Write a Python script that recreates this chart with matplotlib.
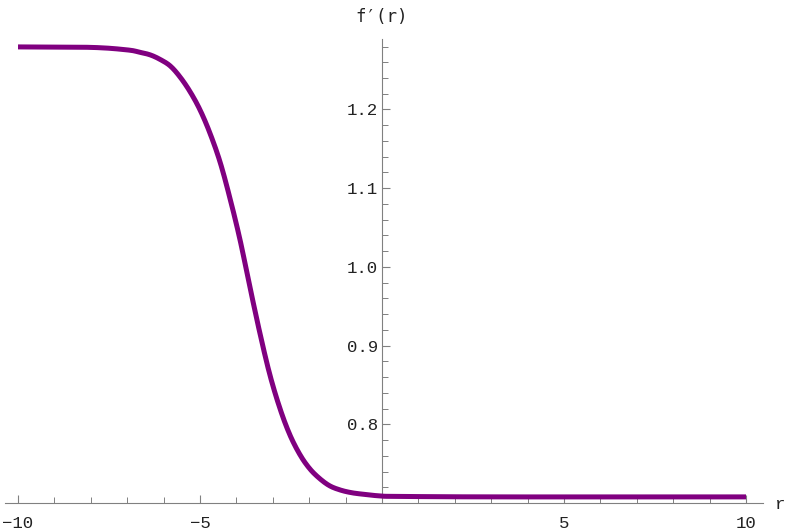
import matplotlib
matplotlib.use("Agg")
import matplotlib.pyplot as plt
import numpy as np

# Curve samples
r_vals = [-10.0, -8.0, -7.0, -6.65, -6.37, -6.10, -5.82, -5.55, -5.27, -5.00, -4.73, -4.45,
          -4.18, -3.90, -3.63, -3.35, -3.08, -2.80, -2.53, -2.25, -1.98, -1.70, -1.43, -1.15,
          -0.88, -0.60, -0.05, 0.49, 3.24, 10.0]
fp_vals = [1.2795, 1.2789, 1.2757, 1.2726, 1.2694, 1.2637, 1.2554, 1.2414, 1.2224, 1.1995,
           1.1703, 1.1334, 1.0877, 1.0343, 0.9746, 0.9149, 0.8628, 0.8196, 0.7865, 0.7611,
           0.7433, 0.7306, 0.7217, 0.7166, 0.7135, 0.7116, 0.7090, 0.7084, 0.7078, 0.7078]

x_major = [-10, -5, 5, 10]
x_major_labels = ['\u221210', '\u22125', '5', '10']
x_minor = [-9, -8, -7, -6, -4, -3, -2, -1, 1, 2, 3, 4, 6, 7, 8, 9]
y_major = [0.8, 0.9, 1.0, 1.1, 1.2]
y_major_labels = ['0.8', '0.9', '1.0', '1.1', '1.2']
y_minor = [0.72, 0.74, 0.76, 0.78, 0.82, 0.84, 0.86, 0.88, 0.92, 0.94, 0.96, 0.98,
           1.02, 1.04, 1.06, 1.08, 1.12, 1.14, 1.16, 1.18, 1.22, 1.24, 1.26, 1.28]

fig = plt.figure(figsize=(7.9, 5.32), dpi=100)
ax = fig.add_axes([0, 0, 1, 1])

# Catmull-Rom smoothing through the read points
xs = np.array(r_vals); ys = np.array(fp_vals)
pts_x, pts_y = [], []
n = len(xs)
for i in range(n - 1):
    i0, i3 = max(i - 1, 0), min(i + 2, n - 1)
    p0 = np.array([xs[i0], ys[i0]]); p1 = np.array([xs[i], ys[i]])
    p2 = np.array([xs[i + 1], ys[i + 1]]); p3 = np.array([xs[i3], ys[i3]])
    for t in np.linspace(0, 1, 16, endpoint=False):
        p = 0.5 * ((2 * p1) + (-p0 + p2) * t + (2 * p0 - 5 * p1 + 4 * p2 - p3) * t * t
                   + (-p0 + 3 * p1 - 3 * p2 + p3) * t ** 3)
        pts_x.append(p[0]); pts_y.append(p[1])
pts_x.append(xs[-1]); pts_y.append(ys[-1])

ax.plot(pts_x, pts_y, color=(0.5, 0.0, 0.5), lw=3.6, solid_capstyle='butt', zorder=5)

ax.set_xlim(-10.495, 11.209)
ax.set_ylim(0.6632, 1.3391)

axis_color = '#808080'
for s in ['top', 'right']:
    ax.spines[s].set_visible(False)
ax.spines['left'].set_position(('data', 0))
ax.spines['bottom'].set_position(('data', 0.7))
ax.spines['left'].set_bounds(0.7, 1.29)
ax.spines['bottom'].set_bounds(-10.36, 10.47)
for s in ['left', 'bottom']:
    ax.spines[s].set_color(axis_color)
    ax.spines[s].set_linewidth(0.8)

mono = 'Liberation Mono'
ax.set_xticks(x_major)
ax.set_xticklabels(x_major_labels, fontfamily=mono, fontsize=12.5, color='#222222')
ax.set_xticks(x_minor, minor=True)
ax.set_yticks(y_major)
ax.set_yticklabels(y_major_labels, fontfamily=mono, fontsize=12.5, color='#222222')
ax.set_yticks(y_minor, minor=True)
ax.tick_params(axis='both', which='major', direction='in', length=6, width=0.8, color=axis_color)
ax.tick_params(axis='both', which='minor', direction='in', length=4, width=0.7, color=axis_color)
ax.tick_params(axis='x', which='major', pad=9)
ax.tick_params(axis='y', which='major', pad=3)

ax.text(0, 1.318, "f\u2032(r)", ha='center', va='center', fontfamily=['DejaVu Sans Mono'], fontsize=12.5, color='#222222')
ax.text(10.93, 0.6985, "r", ha='center', va='center', fontfamily=mono, fontsize=12.5, color='#222222')

fig.savefig("out.png", dpi=100)
